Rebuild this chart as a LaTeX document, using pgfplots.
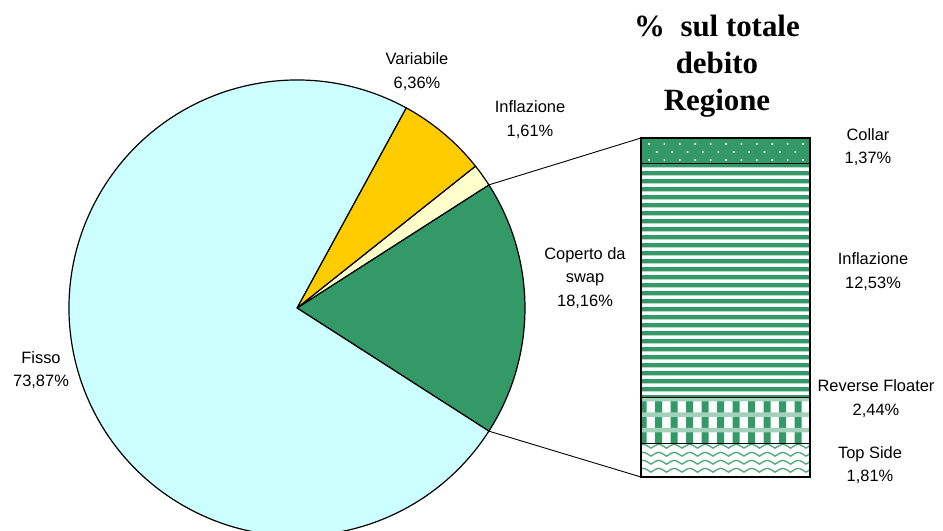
\documentclass[border=0pt]{standalone}
\usepackage{pgfplots}
\pgfplotsset{compat=1.18}
\usetikzlibrary{patterns}
\usepackage{fontspec}
\setmainfont{Liberation Sans}
\newfontfamily\titlefont{Liberation Serif}
\definecolor{swapgreen}{HTML}{339966}
\definecolor{fissoc}{HTML}{CCFFFF}
\definecolor{varc}{HTML}{FFCC00}
\definecolor{inflc}{HTML}{FFFFCC}
\pgfdeclarepatterninherentlycolored{collardots}{\pgfpointorigin}{\pgfqpoint{1016.4bp}{80bp}}{\pgfqpoint{1016.4bp}{80bp}}{%
  \pgfsetfillcolor{swapgreen}%
  \pgfpathrectangle{\pgfpointorigin}{\pgfqpoint{1016.4bp}{80bp}}\pgfusepath{fill}%
  \pgfsetfillcolor{white!85!swapgreen}%
  \foreach \p in {0,...,4}{\foreach \c in {0,...,65}{%
    \pgfpathrectangle{\pgfpoint{\c*15.4bp+1.4bp}{\p*16bp+2.2bp}}{\pgfqpoint{1.6bp}{1.6bp}}%
    \pgfpathrectangle{\pgfpoint{\c*15.4bp+9.1bp}{\p*16bp+10.2bp}}{\pgfqpoint{1.6bp}{1.6bp}}}}%
  \pgfusepath{fill}}
\pgfdeclarepatterninherentlycolored{stripes}{\pgfpointorigin}{\pgfqpoint{1000bp}{7.7bp}}{\pgfqpoint{1000bp}{7.7bp}}{%
  \pgfsetfillcolor{white}%
  \pgfpathrectangle{\pgfpointorigin}{\pgfqpoint{1000bp}{7.7bp}}\pgfusepath{fill}%
  \pgfsetfillcolor{swapgreen}%
  \pgfpathrectangle{\pgfqpoint{0bp}{1.8bp}}{\pgfqpoint{1000bp}{4.2bp}}\pgfusepath{fill}}
\pgfdeclarepatterninherentlycolored{plaid}{\pgfpointorigin}{\pgfqpoint{1007.5bp}{604.5bp}}{\pgfqpoint{1007.5bp}{604.5bp}}{%
  \pgfsetfillcolor{white}%
  \pgfpathrectangle{\pgfpointorigin}{\pgfqpoint{1007.5bp}{604.5bp}}\pgfusepath{fill}%
  \pgfsetfillcolor{swapgreen}%
  \foreach \c in {0,...,64}{\pgfpathrectangle{\pgfpoint{\c*15.5bp+4bp}{0bp}}{\pgfqpoint{7bp}{604.5bp}}}%
  \pgfusepath{fill}%
  \pgfsetfillcolor{swapgreen!45}%
  \foreach \r in {0,...,38}{\pgfpathrectangle{\pgfpoint{0bp}{\r*15.5bp+5.5bp}}{\pgfqpoint{1007.5bp}{4.5bp}}}%
  \pgfusepath{fill}}
\pgfdeclarepatterninherentlycolored{waves}{\pgfpointorigin}{\pgfqpoint{1007.5bp}{8.3bp}}{\pgfqpoint{1007.5bp}{8.3bp}}{%
  \pgfsetfillcolor{white}%
  \pgfpathrectangle{\pgfpointorigin}{\pgfqpoint{1007.5bp}{8.3bp}}\pgfusepath{fill}%
  \pgfsetstrokecolor{swapgreen!85}%
  \pgfsetlinewidth{1.4bp}%
  \pgfpathmoveto{\pgfqpoint{0bp}{2bp}}%
  \foreach \c in {0,...,64}{%
    \pgfpathcurveto{\pgfpoint{\c*15.5bp+2bp}{3bp}}{\pgfpoint{\c*15.5bp+5bp}{6bp}}{\pgfpoint{\c*15.5bp+7.75bp}{6bp}}%
    \pgfpathcurveto{\pgfpoint{\c*15.5bp+10.5bp}{6bp}}{\pgfpoint{\c*15.5bp+13.5bp}{3bp}}{\pgfpoint{\c*15.5bp+15.5bp}{2bp}}}%
  \pgfusepath{stroke}}
\tikzset{lbl/.style={inner sep=0pt,align=center,font=\fontsize{16.5}{23.5}\selectfont}}
\begin{document}
\begin{tikzpicture}
\useasboundingbox (0,0) rectangle (943bp,531bp);
% pie data (percent)
\def\vSwap{18.16}\def\vInfl{1.61}\def\vVar{6.36}\def\vFisso{73.87}
\pgfmathsetmacro\aA{-\vSwap*1.8}
\pgfmathsetmacro\aB{\aA+\vSwap*3.6}
\pgfmathsetmacro\aC{\aB+\vInfl*3.6}
\pgfmathsetmacro\aD{\aC+\vVar*3.6}
\pgfmathsetmacro\aE{\aD+\vFisso*3.6}
\begin{axis}[x=1bp,y=1bp,xmin=0,xmax=943,ymin=0,ymax=531,hide axis]
\filldraw[fill=swapgreen,draw=black,line width=1.2bp] (axis cs:297,223) -- ++(\aA:228bp) arc[start angle=\aA,end angle=\aB,radius=228bp] -- cycle;
\filldraw[fill=inflc,draw=black,line width=1.2bp] (axis cs:297,223) -- ++(\aB:228bp) arc[start angle=\aB,end angle=\aC,radius=228bp] -- cycle;
\filldraw[fill=varc,draw=black,line width=1.2bp] (axis cs:297,223) -- ++(\aC:228bp) arc[start angle=\aC,end angle=\aD,radius=228bp] -- cycle;
\filldraw[fill=fissoc,draw=black,line width=1.2bp] (axis cs:297,223) -- ++(\aD:228bp) arc[start angle=\aD,end angle=\aE,radius=228bp] -- cycle;
\draw[line width=0.9bp] (axis cs:297,223) ++(\aB:228bp) -- (axis cs:641,393);
\draw[line width=0.9bp] (axis cs:297,223) ++(\aA:228bp) -- (axis cs:641,54);
\node[lbl] at (axis cs:41,161) {Fisso\\73,87\%};
\node[lbl] at (axis cs:417,459.5) {Variabile\\6,36\%};
\node[lbl] at (axis cs:530,411.5) {Inflazione\\1,61\%};
\node[lbl] at (axis cs:585,253) {Coperto da\\swap\\18,16\%};
\node[lbl] at (axis cs:868,384) {Collar\\1,37\%};
\node[lbl] at (axis cs:873,259.5) {Inflazione\\12,53\%};
\node[lbl] at (axis cs:876,132.5) {Reverse Floater\\2,44\%};
\node[lbl] at (axis cs:870,66) {Top Side\\1,81\%};
\node[inner sep=0pt,align=center,font=\titlefont\bfseries\fontsize{31}{37}\selectfont] at (axis cs:717,465) {\%\ \ sul totale\\debito\\Regione};
\end{axis}
\begin{axis}[at={(641bp,54bp)},anchor=south west,width=169bp,height=339bp,scale only axis,hide axis,
  xmin=-0.5,xmax=0.5,ymin=0,ymax=18.15,ybar stacked,bar width=1,clip=false]
\addplot[pattern=waves,draw=black,line width=1.1bp] coordinates {(0,1.81)};
\addplot[pattern=plaid,draw=black,line width=1.1bp] coordinates {(0,2.44)};
\addplot[pattern=stripes,draw=black,line width=1.1bp] coordinates {(0,12.53)};
\addplot[pattern=collardots,draw=black,line width=1.1bp] coordinates {(0,1.37)};
\end{axis}
\end{tikzpicture}
\end{document}
